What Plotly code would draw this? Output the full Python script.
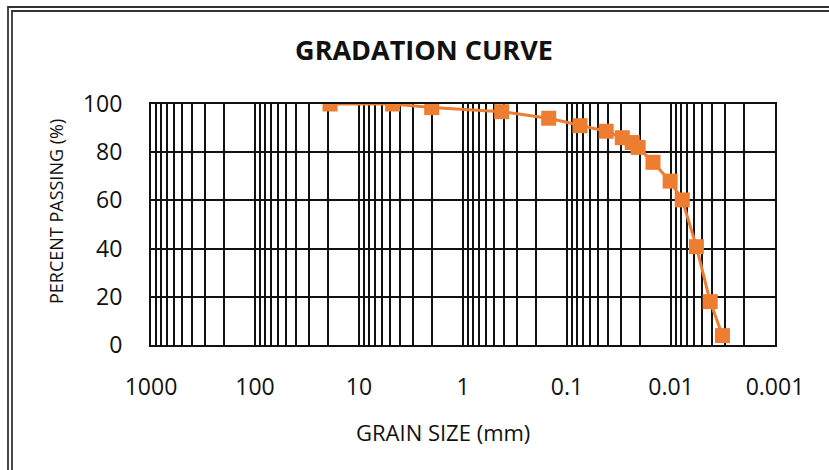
import numpy as np
import plotly.graph_objects as go

# Data
grain_size_mm = [19.0, 4.75, 2.0, 0.425, 0.15, 0.075, 0.042, 0.0294, 0.0236,
                 0.0207, 0.0149, 0.0102, 0.0078, 0.0057, 0.0042, 0.0032]
percent_passing = [100.0, 100.0, 98.5, 96.8, 94.1, 91.0, 88.7, 86.0, 84.0,
                   82.0, 75.8, 68.0, 60.2, 40.8, 18.0, 3.9]
x_tick_vals = [1000, 100, 10, 1, 0.1, 0.01, 0.001]
x_tick_text = ["1000", "100", "10", "1", "0.1", "0.01", "0.001"]
y_tick_vals = [0, 20, 40, 60, 80, 100]

W, H = 829, 470
L, R, T, B = 151, 54, 104, 125
PW, PH = W - L - R, H - T - B

minor_vals = [d * m for d in [0.001, 0.01, 0.1, 1, 10, 100] for m in range(2, 10)]

ORANGE = "#ED7D31"
FONT = "Open Sans"
TXT = "#111111"

fig = go.Figure()
fig.add_trace(go.Scatter(
    x=grain_size_mm, y=percent_passing, mode="lines+markers",
    line=dict(color=ORANGE, width=3),
    marker=dict(symbol="square", size=15, color=ORANGE),
    showlegend=False,
))

fig.update_layout(
    width=W, height=H,
    margin=dict(l=L, r=R, t=T, b=B),
    paper_bgcolor="white", plot_bgcolor="white",
    title=dict(text="<b>GRADATION CURVE</b>", x=424 / W, xref="container",
               xanchor="center", y=1 - 51 / H, yref="container", yanchor="middle",
               font=dict(family=FONT, size=27, color=TXT)),
    xaxis=dict(
        type="log", range=[3, -3], tickmode="array",
        tickvals=x_tick_vals, ticktext=x_tick_text,
        showgrid=True, gridcolor=TXT, gridwidth=2,
        showline=True, linecolor=TXT, linewidth=2, mirror=True,
        zeroline=False, ticks="outside", ticklen=20, tickcolor="white",
        tickfont=dict(family=FONT, size=23, color=TXT),
        minor=dict(tickmode="array", tickvals=minor_vals, showgrid=True,
                   gridcolor=TXT, gridwidth=2, ticks=""),
    ),
    yaxis=dict(
        range=[0, 100], tickmode="array", tickvals=y_tick_vals,
        showgrid=True, gridcolor=TXT, gridwidth=2,
        showline=True, linecolor=TXT, linewidth=2, mirror=True,
        zeroline=False, ticks="outside", ticklen=22, tickcolor="white",
        tickfont=dict(family=FONT, size=23, color=TXT),
    ),
)

# axis titles placed as in the reference
fig.add_annotation(text="GRAIN SIZE (mm)", xref="paper", yref="paper",
                   x=(443 - L) / PW, y=-(432 - (H - B)) / PH,
                   xanchor="center", yanchor="middle", showarrow=False,
                   font=dict(family=FONT, size=22, color=TXT))
fig.add_annotation(text="PERCENT PASSING (%)", xref="paper", yref="paper",
                   x=-(L - 56) / PW, y=((H - B) - 212) / PH, textangle=-90,
                   xanchor="center", yanchor="middle", showarrow=False,
                   font=dict(family=FONT, size=18, color=TXT))

# double frame lines at top-left of the image (extending off-canvas)
for off_x, off_y in ((8, 7), (12, 11)):
    fig.add_shape(type="rect", xref="paper", yref="paper",
                  x0=(off_x - L) / PW, x1=(W + 20 - L) / PW,
                  y0=-(H + 20 - (H - B)) / PH, y1=(H - off_y - B) / PH,
                  line=dict(color="#333333", width=1.8), layer="above")

fig.write_html("out.html")
